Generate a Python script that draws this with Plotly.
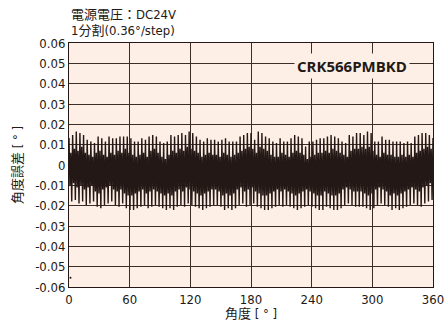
import plotly.graph_objects as go

# ---- data ----
step_deg = 3.6  # one oscillation line every ~3.6 deg
peak_hi = [0.0133, 0.0148, 0.0165, 0.0157, 0.0148, 0.0124, 0.0116, 0.0108, 0.0140, 0.0132,
           0.0116, 0.0140, 0.0132, 0.0132, 0.0140, 0.0140, 0.0140, 0.0132, 0.0116, 0.0116,
           0.0132, 0.0124, 0.0140, 0.0148, 0.0140, 0.0116, 0.0108, 0.0116, 0.0148, 0.0140,
           0.0148, 0.0157, 0.0148, 0.0165, 0.0157, 0.0140, 0.0124, 0.0116, 0.0132, 0.0124,
           0.0124, 0.0116, 0.0124, 0.0132, 0.0116, 0.0116, 0.0116, 0.0140, 0.0148, 0.0157,
           0.0157, 0.0124, 0.0165, 0.0157, 0.0140, 0.0132, 0.0116, 0.0108, 0.0132, 0.0116,
           0.0116, 0.0132, 0.0148, 0.0140, 0.0132, 0.0091, 0.0116, 0.0116, 0.0124, 0.0132,
           0.0132, 0.0140, 0.0148, 0.0140, 0.0132, 0.0116, 0.0108, 0.0148, 0.0140, 0.0157,
           0.0157, 0.0148, 0.0165, 0.0157, 0.0116, 0.0116, 0.0140, 0.0124, 0.0124, 0.0116,
           0.0116, 0.0116, 0.0108, 0.0116, 0.0108, 0.0140, 0.0148, 0.0157, 0.0157, 0.0148]
peak_lo = [-0.0180, -0.0172, -0.0189, -0.0180, -0.0197, -0.0189, -0.0180, -0.0205, -0.0213, -0.0197,
           -0.0189, -0.0180, -0.0197, -0.0205, -0.0189, -0.0213, -0.0221, -0.0221, -0.0213, -0.0205,
           -0.0197, -0.0213, -0.0205, -0.0197, -0.0205, -0.0213, -0.0221, -0.0213, -0.0221, -0.0205,
           -0.0197, -0.0205, -0.0189, -0.0197, -0.0205, -0.0213, -0.0221, -0.0213, -0.0205, -0.0197,
           -0.0197, -0.0205, -0.0221, -0.0213, -0.0221, -0.0213, -0.0197, -0.0189, -0.0205, -0.0197,
           -0.0189, -0.0205, -0.0213, -0.0221, -0.0221, -0.0213, -0.0205, -0.0197, -0.0205, -0.0197,
           -0.0205, -0.0213, -0.0221, -0.0213, -0.0205, -0.0197, -0.0205, -0.0213, -0.0221, -0.0221,
           -0.0205, -0.0213, -0.0221, -0.0221, -0.0213, -0.0197, -0.0189, -0.0197, -0.0205, -0.0205,
           -0.0205, -0.0213, -0.0221, -0.0213, -0.0197, -0.0189, -0.0197, -0.0205, -0.0221, -0.0213,
           -0.0221, -0.0213, -0.0205, -0.0197, -0.0189, -0.0197, -0.0205, -0.0189, -0.0180, -0.0172]
mid_hi = [0.006, 0.008, 0.007, 0.009, 0.006, 0.005, 0.004, 0.006, 0.007, 0.005,
          0.004, 0.006, 0.005, 0.007, 0.006, 0.008, 0.006, 0.005, 0.004, 0.005,
          0.006, 0.004, 0.007, 0.008, 0.006, 0.004, 0.003, 0.005, 0.007, 0.006,
          0.008, 0.007, 0.009, 0.008, 0.007, 0.006, 0.004, 0.005, 0.006, 0.005,
          0.005, 0.004, 0.006, 0.005, 0.004, 0.005, 0.006, 0.007, 0.008, 0.009,
          0.008, 0.006, 0.009, 0.008, 0.007, 0.005, 0.004, 0.004, 0.006, 0.005,
          0.004, 0.006, 0.007, 0.006, 0.005, 0.003, 0.004, 0.005, 0.006, 0.006,
          0.007, 0.006, 0.008, 0.007, 0.006, 0.005, 0.004, 0.007, 0.008, 0.008,
          0.009, 0.008, 0.009, 0.007, 0.005, 0.004, 0.006, 0.005, 0.005, 0.004,
          0.004, 0.005, 0.004, 0.005, 0.004, 0.006, 0.007, 0.008, 0.009, 0.008]
mid_lo = [-0.010, -0.009, -0.011, -0.010, -0.012, -0.011, -0.010, -0.013, -0.014, -0.012,
          -0.011, -0.010, -0.012, -0.013, -0.012, -0.014, -0.015, -0.015, -0.014, -0.013,
          -0.012, -0.014, -0.013, -0.012, -0.013, -0.014, -0.015, -0.014, -0.015, -0.013,
          -0.012, -0.013, -0.011, -0.012, -0.013, -0.014, -0.015, -0.014, -0.013, -0.012,
          -0.012, -0.013, -0.015, -0.014, -0.015, -0.014, -0.012, -0.011, -0.013, -0.012,
          -0.011, -0.013, -0.014, -0.015, -0.015, -0.014, -0.013, -0.012, -0.013, -0.012,
          -0.013, -0.014, -0.015, -0.014, -0.013, -0.012, -0.013, -0.014, -0.015, -0.015,
          -0.013, -0.014, -0.015, -0.015, -0.014, -0.012, -0.011, -0.012, -0.013, -0.013,
          -0.013, -0.014, -0.015, -0.014, -0.012, -0.011, -0.012, -0.013, -0.015, -0.014,
          -0.015, -0.014, -0.013, -0.012, -0.011, -0.012, -0.013, -0.011, -0.010, -0.009]
stray_angle = [1.5]
stray_error = [-0.0555]

x_ticks = [0, 60, 120, 180, 240, 300, 360]
y_ticks = [0.06, 0.05, 0.04, 0.03, 0.02, 0.01, 0, -0.01, -0.02, -0.03, -0.04, -0.05, -0.06]
y_tick_text = ["0.06", "0.05", "0.04", "0.03", "0.02", "0.01", "0",
               "-0.01", "-0.02", "-0.03", "-0.04", "-0.05", "-0.06"]
model_name = "CRK566PMBKD"
model_pos = (280, 0.0487)
cond_line1 = "電源電圧：DC24V"
cond_line2 = "1分割(0.36°/step)"
x_title = "角度 [ ° ]"
y_title = "角度誤差 [ ° ]"

# ---- assemble polyline: hi, mid_lo, mid_hi, lo for each oscillation ----
xs, ys = [], []
for i in range(len(peak_hi)):
    base = i * step_deg
    for k, v in enumerate([peak_hi[i], mid_lo[i], mid_hi[i], peak_lo[i]]):
        xs.append(base + k * step_deg / 4)
        ys.append(v)
xs.append(360)
ys.append(peak_hi[0])

INK = "#231815"
GRID = "#3d2d28"
BG = "#fdefe5"
FONT = "DejaVu Sans Condensed, Noto Sans CJK JP, sans-serif"
CJK = "DejaVu Sans Condensed, Noto Sans CJK JP, sans-serif"

fig = go.Figure()
fig.add_trace(go.Scatter(x=xs, y=ys, mode="lines",
                         line=dict(color=INK, width=1.4), hoverinfo="skip"))
fig.add_trace(go.Scatter(x=stray_angle, y=stray_error, mode="markers",
                         marker=dict(color=INK, size=2), hoverinfo="skip"))

fig.update_layout(
    width=446, height=326,
    margin=dict(l=69, r=13, t=43, b=39, autoexpand=False),
    paper_bgcolor="white", plot_bgcolor=BG,
    showlegend=False,
    font=dict(family=FONT, size=13, color=INK),
)
fig.update_xaxes(
    range=[0, 360], tickvals=x_ticks, ticks="", ticklen=0, automargin=False,
    showgrid=True, gridcolor=GRID, gridwidth=1,
    showline=True, linecolor=INK, linewidth=1, mirror=True,
    zeroline=False, tickfont=dict(size=13, family=FONT),
)
fig.update_yaxes(
    range=[-0.06, 0.06], tickvals=y_ticks, ticktext=y_tick_text, ticks="", automargin=False,
    showgrid=True, gridcolor=GRID, gridwidth=1,
    showline=True, linecolor=INK, linewidth=1, mirror=True,
    zeroline=False, tickfont=dict(size=13, family=FONT),
)
fig.add_annotation(xref="paper", yref="paper", x=0.0, y=1.117, xanchor="left", yanchor="middle",
                   showarrow=False, text=cond_line1, font=dict(size=13, family=CJK, color=INK))
fig.add_annotation(xref="paper", yref="paper", x=0.0, y=1.051, xanchor="left", yanchor="middle",
                   showarrow=False, text=cond_line2, font=dict(size=13, family=CJK, color=INK))
fig.add_annotation(xref="paper", yref="paper", x=0.5, y=-0.107, xanchor="center", yanchor="middle",
                   showarrow=False, text=x_title, font=dict(size=13, family=CJK, color=INK))
fig.add_annotation(xref="paper", yref="paper", x=-0.143, y=0.5, xanchor="center", yanchor="middle",
                   showarrow=False, textangle=-90, text=y_title,
                   font=dict(size=13, family=CJK, color=INK))
fig.add_annotation(x=model_pos[0], y=model_pos[1], xref="x", yref="y", showarrow=False,
                   text="<b>" + model_name + "</b>", bgcolor=BG, borderpad=2,
                   font=dict(size=15, family="Open Sans, sans-serif", color=INK))

fig.write_html("out.html", config={"displayModeBar": False},
               post_script="document.body.style.margin='0';document.body.style.overflow='hidden';")
